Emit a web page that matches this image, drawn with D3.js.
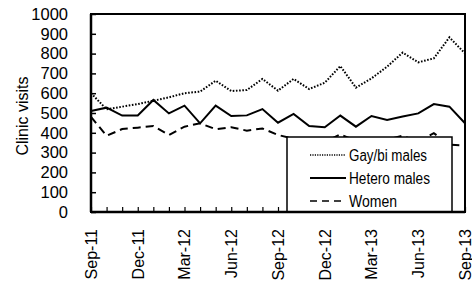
<!DOCTYPE html>
<html><head><meta charset="utf-8">
<script src="https://cdn.jsdelivr.net/npm/d3@7"></script>
<style>
html,body{margin:0;padding:0;background:#fff;}
svg text{font-family:"Liberation Sans",Arial,sans-serif;fill:#000;}
</style></head>
<body><svg id="c" width="472" height="284"></svg>
<script>
const months = ["Sep-11","Oct-11","Nov-11","Dec-11","Jan-12","Feb-12","Mar-12","Apr-12","May-12","Jun-12","Jul-12","Aug-12","Sep-12","Oct-12","Nov-12","Dec-12","Jan-13","Feb-13","Mar-13","Apr-13","May-13","Jun-13","Jul-13","Aug-13","Sep-13"];
const tickLabels = ["Sep-11","Dec-11","Mar-12","Jun-12","Sep-12","Dec-12","Mar-13","Jun-13","Sep-13"];
const gayBi = [600,519,532,545,562,579,600,608,663,611,616,672,613,672,621,653,737,628,675,734,805,756,776,882,801];
const hetero = [510,527,487,487,566,498,537,448,537,485,488,520,451,495,434,428,487,431,485,465,482,498,545,532,448];
const women = [480,385,419,426,434,389,431,448,418,428,411,422,389,370,360,355,392,360,350,365,385,355,398,340,335];
const yTicks = [0,100,200,300,400,500,600,700,800,900,1000];
const seriesNames = ["Gay/bi males","Hetero males","Women"];

const svg = d3.select("#c");
const L=91, R=465, T=14, B=212;
const x = d3.scalePoint().domain(months).range([L,R]);
const y = d3.scaleLinear().domain([0,1000]).range([B,T]);

// y axis
const ya = svg.append("g").attr("transform",`translate(${L},0)`)
  .call(d3.axisLeft(y).tickValues(yTicks).tickFormat(d3.format("d")).tickSize(-5).tickPadding(23));
ya.select(".domain").remove();
ya.selectAll("line").attr("stroke","#000").attr("stroke-width",1.5);
ya.selectAll("text").attr("font-size","16.5px").attr("font-family","Liberation Sans, Arial, sans-serif").attr("fill","#000");

// x axis
const xa = svg.append("g").attr("transform",`translate(0,${B})`)
  .call(d3.axisBottom(x).tickSize(-5).tickFormat(""));
xa.select(".domain").remove();
xa.selectAll("line").attr("stroke","#000").attr("stroke-width",1.2);

svg.append("g").selectAll("text").data(tickLabels).join("text")
  .attr("transform",d=>`translate(${x(d)},${B+17}) rotate(-90)`)
  .attr("text-anchor","end").attr("dy","0.36em")
  .attr("font-size","16px").text(d=>d);

// y title
svg.append("text").attr("transform",`translate(22,116) rotate(-90)`)
  .attr("text-anchor","middle").attr("dy","0.36em").attr("font-size","16px").text("Clinic visits");

// lines
const line = d3.line().x((d,i)=>x(months[i])).y(d=>y(d));
const styles = [
  {data:gayBi, dash:"1.6,1.6", w:2},
  {data:hetero, dash:null, w:2},
  {data:women, dash:"8,5", w:2}
];
styles.forEach(s=>{
  svg.append("path").datum(s.data).attr("d",line).attr("fill","none")
    .attr("stroke","#000").attr("stroke-width",s.w)
    .attr("stroke-dasharray",s.dash);
});

// plot box
svg.append("rect").attr("x",L).attr("y",T).attr("width",R-L).attr("height",B-T)
  .attr("fill","none").attr("stroke","#000").attr("stroke-width",2);

// legend
const lg = svg.append("g");
lg.append("rect").attr("x",287).attr("y",137).attr("width",165).attr("height",B-137)
  .attr("fill","#fff").attr("stroke","#000").attr("stroke-width",1.5);
const ly = [155,178,201];
const lw = [78,81,48];
styles.forEach((s,i)=>{
  lg.append("line").attr("x1",310).attr("x2",346).attr("y1",ly[i]).attr("y2",ly[i])
    .attr("stroke","#000").attr("stroke-width",s.dash? 1.5:2)
    .attr("stroke-dasharray", i===0?"1.2,1.2":(i===2?"7,5":null));
  lg.append("text").attr("x",349).attr("y",ly[i]).attr("dy","0.36em")
    .attr("font-size","16px")
    .attr("textLength",lw[i]).attr("lengthAdjust","spacingAndGlyphs")
    .text(seriesNames[i]);
});
svg.append("line").attr("x1",L).attr("x2",R).attr("y1",B).attr("y2",B).attr("stroke","#000").attr("stroke-width",2.5);
svg.append("line").attr("x1",L).attr("x2",L).attr("y1",T).attr("y2",B).attr("stroke","#000").attr("stroke-width",2.5);
</script></body></html>
